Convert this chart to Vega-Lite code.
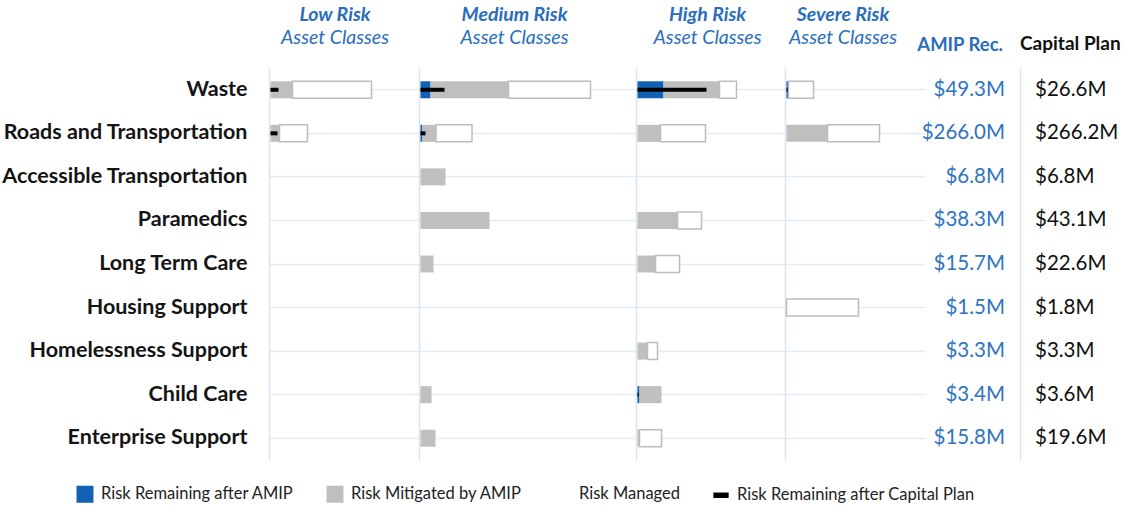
{
  "$schema": "https://vega.github.io/schema/vega-lite/v6.json",
  "background": "white",
  "padding": {"left": 1, "top": 5, "right": 0, "bottom": 0},
  "spacing": 0,
  "bounds": "flush",
  "datasets": {
    "risk": [
      {"asset": "Waste", "cls": "Low", "seg": "Risk Mitigated by AMIP", "v": 22},
      {"asset": "Waste", "cls": "Low", "seg": "Risk Managed", "v": 79},
      {"asset": "Waste", "cls": "Low", "seg": "Risk Remaining after Capital Plan", "v": 8},
      {"asset": "Waste", "cls": "Medium", "seg": "Risk Remaining after AMIP", "v": 10},
      {"asset": "Waste", "cls": "Medium", "seg": "Risk Mitigated by AMIP", "v": 78},
      {"asset": "Waste", "cls": "Medium", "seg": "Risk Managed", "v": 82},
      {"asset": "Waste", "cls": "Medium", "seg": "Risk Remaining after Capital Plan", "v": 24},
      {"asset": "Waste", "cls": "High", "seg": "Risk Remaining after AMIP", "v": 26},
      {"asset": "Waste", "cls": "High", "seg": "Risk Mitigated by AMIP", "v": 56},
      {"asset": "Waste", "cls": "High", "seg": "Risk Managed", "v": 17},
      {"asset": "Waste", "cls": "High", "seg": "Risk Remaining after Capital Plan", "v": 69},
      {"asset": "Waste", "cls": "Severe", "seg": "Risk Remaining after AMIP", "v": 2},
      {"asset": "Waste", "cls": "Severe", "seg": "Risk Managed", "v": 25},
      {"asset": "Waste", "cls": "Severe", "seg": "Risk Remaining after Capital Plan", "v": 1},
      {"asset": "Roads and Transportation", "cls": "Low", "seg": "Risk Mitigated by AMIP", "v": 9},
      {"asset": "Roads and Transportation", "cls": "Low", "seg": "Risk Managed", "v": 28},
      {"asset": "Roads and Transportation", "cls": "Low", "seg": "Risk Remaining after Capital Plan", "v": 7},
      {"asset": "Roads and Transportation", "cls": "Medium", "seg": "Risk Remaining after AMIP", "v": 1.5},
      {"asset": "Roads and Transportation", "cls": "Medium", "seg": "Risk Mitigated by AMIP", "v": 14},
      {"asset": "Roads and Transportation", "cls": "Medium", "seg": "Risk Managed", "v": 36},
      {"asset": "Roads and Transportation", "cls": "Medium", "seg": "Risk Remaining after Capital Plan", "v": 5},
      {"asset": "Roads and Transportation", "cls": "High", "seg": "Risk Mitigated by AMIP", "v": 23},
      {"asset": "Roads and Transportation", "cls": "High", "seg": "Risk Managed", "v": 45},
      {"asset": "Roads and Transportation", "cls": "Severe", "seg": "Risk Mitigated by AMIP", "v": 41},
      {"asset": "Roads and Transportation", "cls": "Severe", "seg": "Risk Managed", "v": 52},
      {"asset": "Accessible Transportation", "cls": "Medium", "seg": "Risk Mitigated by AMIP", "v": 25},
      {"asset": "Paramedics", "cls": "Medium", "seg": "Risk Mitigated by AMIP", "v": 69},
      {"asset": "Paramedics", "cls": "High", "seg": "Risk Mitigated by AMIP", "v": 40},
      {"asset": "Paramedics", "cls": "High", "seg": "Risk Managed", "v": 24},
      {"asset": "Long Term Care", "cls": "Medium", "seg": "Risk Mitigated by AMIP", "v": 13},
      {"asset": "Long Term Care", "cls": "High", "seg": "Risk Mitigated by AMIP", "v": 18},
      {"asset": "Long Term Care", "cls": "High", "seg": "Risk Managed", "v": 24},
      {"asset": "Housing Support", "cls": "Severe", "seg": "Risk Managed", "v": 72},
      {"asset": "Homelessness Support", "cls": "High", "seg": "Risk Mitigated by AMIP", "v": 10},
      {"asset": "Homelessness Support", "cls": "High", "seg": "Risk Managed", "v": 10},
      {"asset": "Child Care", "cls": "Medium", "seg": "Risk Mitigated by AMIP", "v": 11},
      {"asset": "Child Care", "cls": "High", "seg": "Risk Remaining after AMIP", "v": 2},
      {"asset": "Child Care", "cls": "High", "seg": "Risk Mitigated by AMIP", "v": 22},
      {"asset": "Child Care", "cls": "High", "seg": "Risk Remaining after Capital Plan", "v": 1},
      {"asset": "Enterprise Support", "cls": "Medium", "seg": "Risk Mitigated by AMIP", "v": 15},
      {"asset": "Enterprise Support", "cls": "High", "seg": "Risk Mitigated by AMIP", "v": 2},
      {"asset": "Enterprise Support", "cls": "High", "seg": "Risk Managed", "v": 22}
    ],
    "totals": [
      {"asset": "Waste", "amip": "$49.3M", "capital": "$26.6M"},
      {"asset": "Roads and Transportation", "amip": "$266.0M", "capital": "$266.2M"},
      {"asset": "Accessible Transportation", "amip": "$6.8M", "capital": "$6.8M"},
      {"asset": "Paramedics", "amip": "$38.3M", "capital": "$43.1M"},
      {"asset": "Long Term Care", "amip": "$15.7M", "capital": "$22.6M"},
      {"asset": "Housing Support", "amip": "$1.5M", "capital": "$1.8M"},
      {"asset": "Homelessness Support", "amip": "$3.3M", "capital": "$3.3M"},
      {"asset": "Child Care", "amip": "$3.4M", "capital": "$3.6M"},
      {"asset": "Enterprise Support", "amip": "$15.8M", "capital": "$19.6M"}
    ]
  },
  "config": {
    "view": {"stroke": null},
    "font": "Lato",
    "axisY": {
      "domainColor": "#dae4f1",
      "domainWidth": 1.5,
      "gridColor": "#e3ebf6",
      "gridWidth": 1.5,
      "ticks": false,
      "title": null,
      "bandPosition": 0.5
    },
    "title": {
      "font": "Lato",
      "fontSize": 19.5,
      "fontWeight": "bold",
      "fontStyle": "italic",
      "color": "#2a6ebb",
      "subtitleFont": "Lato",
      "subtitleFontSize": 19.5,
      "subtitleFontStyle": "italic",
      "subtitleColor": "#2a6ebb",
      "subtitlePadding": 3,
      "offset": 20,
      "frame": "group",
      "anchor": "middle"
    }
  },
  "resolve": {"scale": {"color": "shared"}, "legend": {"color": "shared"}},
  "hconcat": [
    {
      "width": 150,
      "height": 392,
      "title": {"text": "Low Risk", "subtitle": "Asset Classes", "dx": -9},
      "data": {"name": "risk"},
      "transform": [{"filter": "datum.cls === 'Low'"}],
      "encoding": {
        "y": {
          "field": "asset",
          "type": "nominal",
          "scale": {
            "domain": ["Waste", "Roads and Transportation", "Accessible Transportation", "Paramedics", "Long Term Care", "Housing Support", "Homelessness Support", "Child Care", "Enterprise Support"],
            "paddingInner": 0,
            "paddingOuter": 0
          },
          "axis": {
            "labels": true,
            "labelFont": "Lato",
            "labelFontSize": 21.5,
            "labelFontWeight": "bold",
            "labelColor": "#141414",
            "labelPadding": 22,
            "labelLimit": 400,
            "grid": true
          }
        }
      },
      "layer": [
        {
          "transform": [{"filter": "datum.seg !== 'Risk Remaining after Capital Plan'"}],
          "mark": {"type": "bar", "size": 17, "strokeWidth": 1.5, "stroke": {"expr": "datum.value === 'Risk Managed' ? '#c4c4c4' : 'transparent'"}},
          "encoding": {
            "x": {"field": "v", "type": "quantitative", "stack": "zero", "scale": {"domain": [-1.5, 148.5]}, "axis": null},
            "color": {
              "field": "seg",
              "type": "nominal",
              "scale": {
                "domain": ["Risk Remaining after AMIP", "Risk Mitigated by AMIP", "Risk Managed", "Risk Remaining after Capital Plan"],
                "range": ["#1261b4", "#bfbfbf", "#ffffff", "#000000"]
              },
              "legend": {
                "orient": "none",
                "direction": "horizontal",
                "legendX": -193,
                "legendY": 417,
                "title": null,
                "padding": 0,
                "symbolType": {"expr": "datum.value === 'Risk Remaining after Capital Plan' ? 'M-0.9,-0.32H0.9V0.32H-0.9Z' : 'square'"},
                "symbolSize": 289,
                "symbolStrokeWidth": 1,
                "labelFont": "Lato",
                "labelFontSize": 16.5,
                "labelColor": "#222222",
                "labelOffset": 7,
                "labelLimit": 400,
                "columnPadding": 30
              }
            },
            "order": {"field": "seg", "sort": "descending"},
            "stroke": {"condition": {"test": "datum.seg === 'Risk Managed'", "value": "#bdbdbd"}, "value": "transparent"}
          }
        },
        {
          "transform": [{"filter": "datum.seg === 'Risk Remaining after Capital Plan'"}],
          "mark": {"type": "bar", "size": 4},
          "encoding": {
            "x": {"field": "v", "type": "quantitative", "scale": {"domain": [-1.5, 148.5]}, "axis": null},
            "color": {"field": "seg", "type": "nominal"}
          }
        }
      ]
    },
    {
      "width": 217,
      "height": 392,
      "title": {"text": "Medium Risk", "subtitle": "Asset Classes", "dx": -13},
      "data": {"name": "risk"},
      "transform": [{"filter": "datum.cls === 'Medium'"}],
      "encoding": {
        "y": {
          "field": "asset",
          "type": "nominal",
          "scale": {
            "domain": ["Waste", "Roads and Transportation", "Accessible Transportation", "Paramedics", "Long Term Care", "Housing Support", "Homelessness Support", "Child Care", "Enterprise Support"],
            "paddingInner": 0,
            "paddingOuter": 0
          },
          "axis": {"labels": false, "grid": true}
        }
      },
      "layer": [
        {
          "transform": [{"filter": "datum.seg !== 'Risk Remaining after Capital Plan'"}],
          "mark": {"type": "bar", "size": 17, "strokeWidth": 1.5, "stroke": {"expr": "datum.value === 'Risk Managed' ? '#c4c4c4' : 'transparent'"}},
          "encoding": {
            "x": {"field": "v", "type": "quantitative", "stack": "zero", "scale": {"domain": [-1.5, 215.5]}, "axis": null},
            "color": {"field": "seg", "type": "nominal"},
            "order": {"field": "seg", "sort": "descending"},
            "stroke": {"condition": {"test": "datum.seg === 'Risk Managed'", "value": "#bdbdbd"}, "value": "transparent"}
          }
        },
        {
          "transform": [{"filter": "datum.seg === 'Risk Remaining after Capital Plan'"}],
          "mark": {"type": "bar", "size": 4},
          "encoding": {
            "x": {"field": "v", "type": "quantitative", "scale": {"domain": [-1.5, 215.5]}, "axis": null},
            "color": {"field": "seg", "type": "nominal"}
          }
        }
      ]
    },
    {
      "width": 149,
      "height": 392,
      "title": {"text": "High Risk", "subtitle": "Asset Classes", "dx": -3},
      "data": {"name": "risk"},
      "transform": [{"filter": "datum.cls === 'High'"}],
      "encoding": {
        "y": {
          "field": "asset",
          "type": "nominal",
          "scale": {
            "domain": ["Waste", "Roads and Transportation", "Accessible Transportation", "Paramedics", "Long Term Care", "Housing Support", "Homelessness Support", "Child Care", "Enterprise Support"],
            "paddingInner": 0,
            "paddingOuter": 0
          },
          "axis": {"labels": false, "grid": true}
        }
      },
      "layer": [
        {
          "transform": [{"filter": "datum.seg !== 'Risk Remaining after Capital Plan'"}],
          "mark": {"type": "bar", "size": 17, "strokeWidth": 1.5, "stroke": {"expr": "datum.value === 'Risk Managed' ? '#c4c4c4' : 'transparent'"}},
          "encoding": {
            "x": {"field": "v", "type": "quantitative", "stack": "zero", "scale": {"domain": [-1.5, 147.5]}, "axis": null},
            "color": {"field": "seg", "type": "nominal"},
            "order": {"field": "seg", "sort": "descending"},
            "stroke": {"condition": {"test": "datum.seg === 'Risk Managed'", "value": "#bdbdbd"}, "value": "transparent"}
          }
        },
        {
          "transform": [{"filter": "datum.seg === 'Risk Remaining after Capital Plan'"}],
          "mark": {"type": "bar", "size": 4},
          "encoding": {
            "x": {"field": "v", "type": "quantitative", "scale": {"domain": [-1.5, 147.5]}, "axis": null},
            "color": {"field": "seg", "type": "nominal"}
          }
        }
      ]
    },
    {
      "width": 140,
      "height": 392,
      "title": {"text": "Severe Risk", "subtitle": "Asset Classes", "dx": -12},
      "data": {"name": "risk"},
      "transform": [{"filter": "datum.cls === 'Severe'"}],
      "encoding": {
        "y": {
          "field": "asset",
          "type": "nominal",
          "scale": {
            "domain": ["Waste", "Roads and Transportation", "Accessible Transportation", "Paramedics", "Long Term Care", "Housing Support", "Homelessness Support", "Child Care", "Enterprise Support"],
            "paddingInner": 0,
            "paddingOuter": 0
          },
          "axis": {"labels": false, "grid": true}
        }
      },
      "layer": [
        {
          "transform": [{"filter": "datum.seg !== 'Risk Remaining after Capital Plan'"}],
          "mark": {"type": "bar", "size": 17, "strokeWidth": 1.5, "stroke": {"expr": "datum.value === 'Risk Managed' ? '#c4c4c4' : 'transparent'"}},
          "encoding": {
            "x": {"field": "v", "type": "quantitative", "stack": "zero", "scale": {"domain": [-1.5, 138.5]}, "axis": null},
            "color": {"field": "seg", "type": "nominal"},
            "order": {"field": "seg", "sort": "descending"},
            "stroke": {"condition": {"test": "datum.seg === 'Risk Managed'", "value": "#bdbdbd"}, "value": "transparent"}
          }
        },
        {
          "transform": [{"filter": "datum.seg === 'Risk Remaining after Capital Plan'"}],
          "mark": {"type": "bar", "size": 4},
          "encoding": {
            "x": {"field": "v", "type": "quantitative", "scale": {"domain": [-1.5, 138.5]}, "axis": null},
            "color": {"field": "seg", "type": "nominal"}
          }
        }
      ]
    },
    {
      "width": 95,
      "height": 392,
      "title": {"text": "AMIP Rec.", "anchor": "end", "fontStyle": "normal", "fontSize": 18.5, "color": "#2a6ebb", "dx": -17, "offset": 14},
      "data": {"name": "totals"},
      "mark": {"type": "text", "align": "right", "dx": -15, "fontSize": 20.5, "font": "Lato", "color": "#2f74c2"},
      "encoding": {
        "y": {
          "field": "asset",
          "type": "nominal",
          "scale": {
            "domain": ["Waste", "Roads and Transportation", "Accessible Transportation", "Paramedics", "Long Term Care", "Housing Support", "Homelessness Support", "Child Care", "Enterprise Support"],
            "paddingInner": 0,
            "paddingOuter": 0
          },
          "axis": null
        },
        "x": {"datum": 1, "type": "quantitative", "scale": {"domain": [0, 1]}, "axis": null},
        "text": {"field": "amip"}
      }
    },
    {
      "width": 104,
      "height": 392,
      "title": {"text": "Capital Plan", "anchor": "start", "fontStyle": "normal", "fontSize": 19, "color": "#111111", "offset": 14},
      "data": {"name": "totals"},
      "mark": {"type": "text", "align": "left", "dx": 15, "fontSize": 20.5, "font": "Lato", "color": "#111111"},
      "encoding": {
        "y": {
          "field": "asset",
          "type": "nominal",
          "scale": {
            "domain": ["Waste", "Roads and Transportation", "Accessible Transportation", "Paramedics", "Long Term Care", "Housing Support", "Homelessness Support", "Child Care", "Enterprise Support"],
            "paddingInner": 0,
            "paddingOuter": 0
          },
          "axis": {"labels": false, "grid": false}
        },
        "x": {"datum": 0, "type": "quantitative", "scale": {"domain": [0, 1]}, "axis": null},
        "text": {"field": "capital"}
      }
    }
  ]
}
